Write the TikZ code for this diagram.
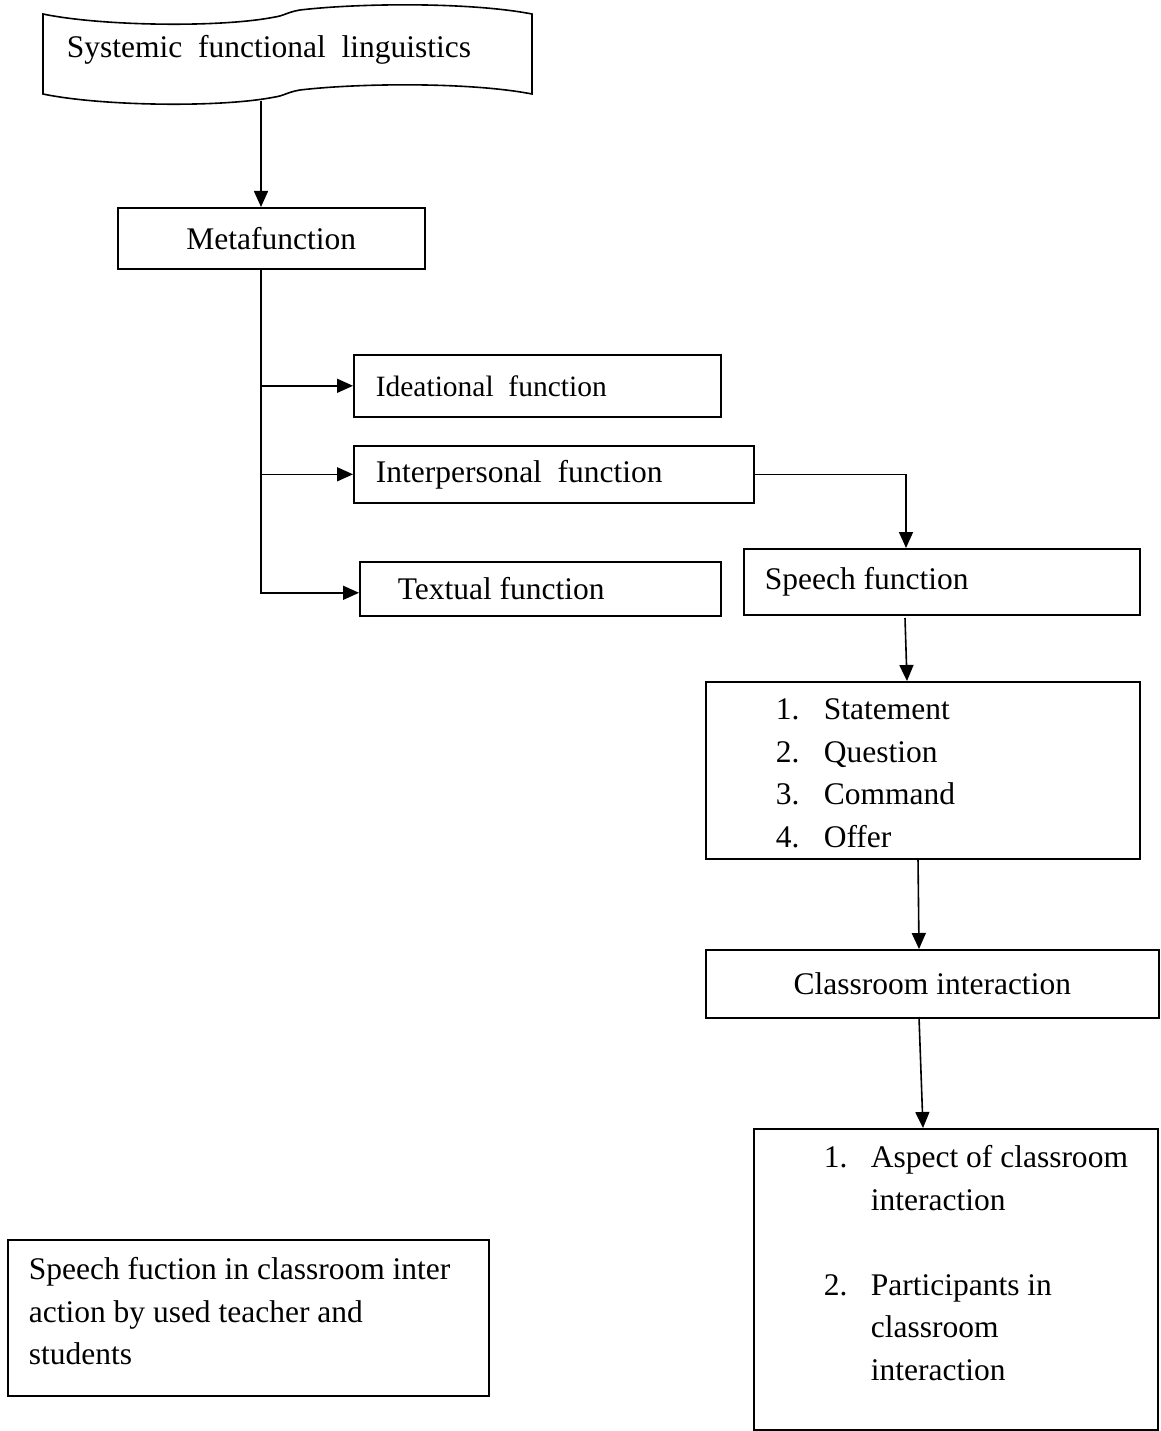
\documentclass[tikz,border=0pt]{standalone}
\usepackage{fontspec}
\setmainfont{Liberation Serif}
\usetikzlibrary{arrows.meta,calc}
\newcommand\boxtxt[4]{\begin{minipage}[c][#2pt][#3]{#1pt}#4\end{minipage}}
\begin{document}
\begin{tikzpicture}[x=1pt,y=-1pt,line width=1.6pt,
  txt/.style={font=\fontsize{31.5}{42.5}\selectfont},
  box/.style={draw,txt,inner sep=0pt,anchor=north west},
  arr/.style={-{Triangle[length=16pt,width=14pt]}}]
\useasboundingbox (0,0) rectangle (1160,1431);
% wavy (punched tape) box
\draw (43,14) .. controls (100,26) and (220,28) .. (275,17)
  .. controls (283,16) and (288,12) .. (300,10)
  .. controls (360,3) and (470,2) .. (532,14)
  -- (532,94)
  .. controls (470,82) and (360,83) .. (300,90)
  .. controls (288,92) and (283,96) .. (275,97)
  .. controls (220,108) and (100,106) .. (43,94) -- cycle;
\node[txt,inner sep=0pt] (slf) at (269,50) {Systemic\ \ functional\ \ linguistics};
\coordinate (wb) at (261,101);
% boxes
\node[box] (meta) at (117,207) {\boxtxt{307}{61}{c}{\centering Metafunction}};
\node[box] (ide) at (353,354) {\boxtxt{367}{62}{c}{\hspace*{22pt}\fontsize{29.5}{36}\selectfont Ideational\ \ function}};
\node[box] (int) at (353,445) {\boxtxt{400}{57}{c}{\hspace*{22pt}Interpersonal\ \ function}};
\node[box] (tex) at (359,561) {\boxtxt{361}{54}{c}{\hspace*{38pt}Textual function}};
\node[box] (sp) at (743,548) {\boxtxt{396}{66}{c}{\hspace*{21pt}Speech function}};
\node[box] (list) at (705,681) {\boxtxt{434}{177}{t}{\vspace*{8.4pt}%
  \hspace*{70pt}\makebox[48pt][l]{1.}\strut Statement\\
  \hspace*{70pt}\makebox[48pt][l]{2.}Question\\
  \hspace*{70pt}\makebox[48pt][l]{3.}Command\\
  \hspace*{70pt}\makebox[48pt][l]{4.}Offer}};
\node[box] (cls) at (705,949) {\boxtxt{453}{68}{c}{\centering Classroom interaction}};
\node[box] (asp) at (753,1128) {\boxtxt{404}{301}{t}{\vspace*{9.4pt}%
  \hspace*{70pt}\makebox[47pt][l]{1.}\strut Aspect of classroom\\
  \hspace*{117pt}interaction\\
  \mbox{}\\
  \hspace*{70pt}\makebox[47pt][l]{2.}Participants in\\
  \hspace*{117pt}classroom\\
  \hspace*{117pt}interaction}};
\node[box] (note) at (7,1239) {\boxtxt{481}{156}{t}{\vspace*{10.4pt}\raggedright
  \hspace*{21pt}\strut Speech fuction in classroom inter\\
  \hspace*{21pt}action by used teacher and\\
  \hspace*{21pt}students}};
% connectors
\draw[arr] (wb) -- (meta.north -| wb);
\draw[arr] (meta.south -| wb) |- (ide.west);
\draw[arr] (meta.south -| wb) |- (int.west);
\coordinate (tx) at ($(tex.west)+(0,4)$);
\draw[arr] (meta.south -| wb) |- (tx);
\coordinate (spin) at (906,548);
\draw[arr] (int.east) -| (spin);
\coordinate (a1) at (905,618);
\coordinate (a2) at (907,681);
\draw[arr] (a1) -- (a2);
\coordinate (a3) at (918,858);
\coordinate (a4) at (919,949);
\draw[arr] (a3) -- (a4);
\coordinate (a5) at (919,1017);
\coordinate (a6) at (923,1128);
\draw[arr] (a5) -- (a6);
\end{tikzpicture}
\end{document}
